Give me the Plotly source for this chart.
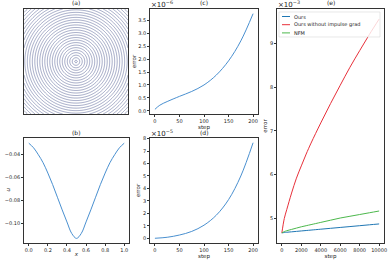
import numpy as np
import plotly.graph_objects as go

W, H = 390, 260
FONT = "DejaVu Sans"
AX = "#333333"

# ---------- data ----------
# (a) rotating flow field: speed grid for streamline-like rings
a_grid = np.linspace(0.0, 1.0, 161)

# (b)
b_x = [0.0, 0.05, 0.1, 0.15, 0.2, 0.25, 0.3, 0.35, 0.4, 0.45, 0.5,
       0.55, 0.6, 0.65, 0.7, 0.75, 0.8, 0.85, 0.9, 0.95, 1.0]
b_u = [-0.030, -0.034, -0.040, -0.047, -0.056, -0.066, -0.077, -0.088, -0.0985, -0.1085, -0.1128,
       -0.1085, -0.0985, -0.088, -0.077, -0.066, -0.056, -0.047, -0.040, -0.034, -0.030]

# (c)  error ×1e-6
c_step = [0, 10, 25, 50, 75, 100, 125, 150, 175, 200]
c_err = [0.06, 0.22, 0.36, 0.56, 0.75, 1.0, 1.38, 1.93, 2.70, 3.75]

# (d)  error ×1e-5
d_step = [0, 25, 50, 75, 100, 125, 150, 175, 200]
d_err = [0.0, 0.08, 0.26, 0.55, 1.05, 1.85, 3.1, 5.0, 7.67]

# (e)  error ×1e-3
e_step = [0, 250, 500, 1000, 1500, 2000, 2500, 3000, 4000, 5000, 6000, 7000, 8000, 9000, 10000]
e_ours = [4.67, 4.68, 4.685, 4.695, 4.705, 4.715, 4.725, 4.735, 4.755, 4.775, 4.795, 4.815, 4.835, 4.855, 4.875]
e_noimp = [4.67, 5.0, 5.2, 5.58, 5.92, 6.2, 6.47, 6.72, 7.18, 7.62, 8.04, 8.45, 8.83, 9.2, 9.55]
e_nfm = [4.67, 4.70, 4.72, 4.75, 4.78, 4.81, 4.835, 4.86, 4.91, 4.96, 5.01, 5.05, 5.09, 5.13, 5.17]
e_names = ["Ours", "Ours without impulse grad", "NFM"]
e_colors = ["#1f77b4", "#e8303a", "#4cb84c"]

# ---------- layout helpers ----------
def dom_x(x0, x1):
    return [x0 / W, x1 / W]

def dom_y(y0, y1):
    return [1 - y1 / H, 1 - y0 / H]

P = {
    "a": (24, 128, 9, 114),
    "b": (24, 129, 138, 243),
    "c": (150, 258, 9, 114),
    "d": (150, 258, 138, 243),
    "e": (277, 384, 9, 243),
}

fig = go.Figure()

# (a)
XX, YY = np.meshgrid(a_grid, a_grid)
speed = np.sqrt((XX - 0.5) ** 2 + (YY - 0.5) ** 2)
fig.add_trace(go.Contour(
    x=a_grid, y=a_grid, z=speed, xaxis="x", yaxis="y",
    contours=dict(coloring="lines", start=0.012, end=0.72, size=0.024),
    colorscale=[[0, "#46528a"], [1, "#46528a"]], showscale=False,
    line=dict(width=0.5), hoverinfo="skip"))

CURVE = "#4a90d0"
fig.add_trace(go.Scatter(x=b_x, y=b_u, mode="lines", line=dict(color=CURVE, width=1, shape="spline"),
                         xaxis="x2", yaxis="y2", showlegend=False))
fig.add_trace(go.Scatter(x=c_step, y=c_err, mode="lines", line=dict(color=CURVE, width=1, shape="spline"),
                         xaxis="x3", yaxis="y3", showlegend=False))
fig.add_trace(go.Scatter(x=d_step, y=d_err, mode="lines", line=dict(color=CURVE, width=1, shape="spline"),
                         xaxis="x4", yaxis="y4", showlegend=False))
for ys, nm, col in zip([e_ours, e_noimp, e_nfm], e_names, e_colors):
    fig.add_trace(go.Scatter(x=e_step, y=ys, mode="lines", name=nm,
                             line=dict(color=col, width=1, shape="spline"),
                             xaxis="x5", yaxis="y5", showlegend=False))

tickfont = dict(family=FONT, size=5, color="#222")

def axis(dom, rng, ticks=True, dtick=None, title=None, standoff=1, anchor=None, fmt=None):
    d = dict(domain=dom, range=rng, showline=True, linecolor=AX, linewidth=0.8, mirror=True,
             showgrid=False, zeroline=False, tickfont=tickfont, anchor=anchor, automargin=False)
    if ticks:
        d.update(ticks="outside", ticklen=2, tickwidth=0.6, tickcolor=AX, dtick=dtick, tick0=0)
        if fmt:
            d.update(tickformat=fmt)
    else:
        d.update(showticklabels=False, ticks="")
    if title:
        d.update(title=dict(text=title, font=dict(family=FONT, size=5.5, color="#222"), standoff=standoff))
    return d

lay = dict(
    width=W, height=H, margin=dict(l=0, r=0, t=0, b=0, autoexpand=False),
    paper_bgcolor="white", plot_bgcolor="white", showlegend=False,
    font=dict(family=FONT, size=5, color="#222"),
)
pa, pb, pc, pd, pe = P["a"], P["b"], P["c"], P["d"], P["e"]
lay["xaxis"] = axis(dom_x(pa[0], pa[1]), [0, 1], ticks=False, anchor="y")
lay["yaxis"] = axis(dom_y(pa[2], pa[3]), [0, 1], ticks=False, anchor="x")
lay["xaxis2"] = axis(dom_x(pb[0], pb[1]), [-0.05, 1.05], dtick=0.2, title="<i>x</i>", anchor="y2", fmt=".1f", standoff=0)
lay["yaxis2"] = axis(dom_y(pb[2], pb[3]), [-0.1168, -0.0255], dtick=0.02, anchor="x2", fmt=".2f")
lay["xaxis3"] = axis(dom_x(pc[0], pc[1]), [-10, 210], dtick=50, title="step", anchor="y3", standoff=0)
lay["yaxis3"] = axis(dom_y(pc[2], pc[3]), [-0.12, 3.93], dtick=0.5, title="error", anchor="x3", fmt=".1f")
lay["xaxis4"] = axis(dom_x(pd[0], pd[1]), [-10, 210], dtick=50, title="step", anchor="y4", standoff=0)
lay["yaxis4"] = axis(dom_y(pd[2], pd[3]), [-0.38, 8.05], dtick=1, title="error", anchor="x4")
lay["xaxis5"] = axis(dom_x(pe[0], pe[1]), [-500, 10500], dtick=2000, title="step", anchor="y5", fmt="d", standoff=0)
lay["yaxis5"] = axis(dom_y(pe[2], pe[3]), [4.44, 9.78], dtick=1, title="error", anchor="x5")
fig.update_layout(**lay)

ann = []
for key, lab in zip("abcde", ["(a)", "(b)", "(c)", "(d)", "(e)"]):
    x0, x1, y0, y1 = P[key]
    ann.append(dict(text=lab, x=(x0 + x1) / 2 / W, y=1 - (y0 - 0.5) / H, xref="paper", yref="paper",
                    xanchor="center", yanchor="bottom", showarrow=False,
                    font=dict(family=FONT, size=6, color="#222")))
for key, ex in zip("cde", ["−6", "−5", "−3"]):
    x0, x1, y0, y1 = P[key]
    ann.append(dict(text="×10<sup>%s</sup>" % ex, x=(x0 - 1) / W, y=1 - (y0 + 2) / H, xref="paper", yref="paper",
                    xanchor="left", yanchor="bottom", showarrow=False,
                    font=dict(family=FONT, size=7, color="#222")))
# y label of (b)
ann.append(dict(text="<i>u</i>", x=7.5 / W, y=1 - 190 / H, xref="paper", yref="paper",
                xanchor="center", yanchor="middle", showarrow=False, textangle=-90,
                font=dict(family=FONT, size=5.5, color="#222")))

# legend for (e)
lx0, ly0 = 279, 12
lw, lh = 101, 25
shapes = [dict(type="rect", xref="paper", yref="paper",
               x0=lx0 / W, x1=(lx0 + lw) / W, y0=1 - (ly0 + lh) / H, y1=1 - ly0 / H,
               line=dict(color="#d8d8d8", width=0.6), fillcolor="rgba(255,255,255,0.8)")]
for i, (nm, col) in enumerate(zip(e_names, e_colors)):
    yy = ly0 + 4.5 + i * 8.2
    shapes.append(dict(type="line", xref="paper", yref="paper",
                       x0=(lx0 + 3) / W, x1=(lx0 + 11) / W, y0=1 - yy / H, y1=1 - yy / H,
                       line=dict(color=col, width=1)))
    ann.append(dict(text=nm, x=(lx0 + 13) / W, y=1 - yy / H, xref="paper", yref="paper",
                    xanchor="left", yanchor="middle", showarrow=False,
                    font=dict(family=FONT, size=5, color="#222")))
fig.update_layout(annotations=ann, shapes=shapes)

fig.write_html("out.html", config={"displayModeBar": False},
               post_script="document.body.style.margin='0';document.body.style.padding='0';")
